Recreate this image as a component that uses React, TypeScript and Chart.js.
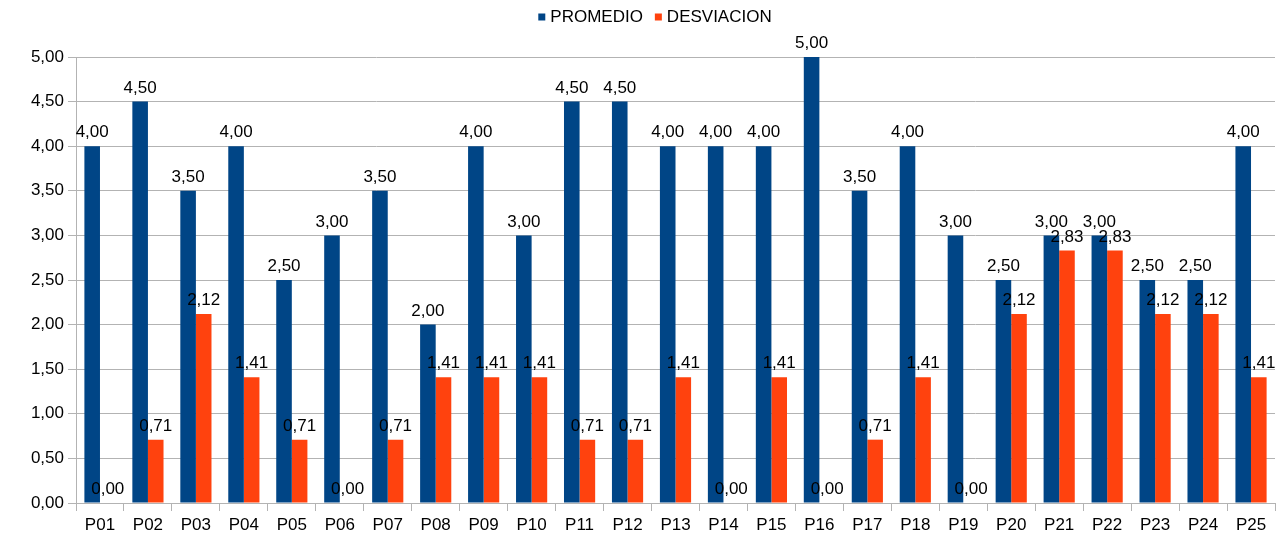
import React, { useEffect, useRef } from "react";
import { Chart, registerables } from "chart.js";

Chart.register(...registerables);

const categories = ["P01","P02","P03","P04","P05","P06","P07","P08","P09","P10","P11","P12","P13","P14","P15","P16","P17","P18","P19","P20","P21","P22","P23","P24","P25"];
const promedio = [4,4.5,3.5,4,2.5,3,3.5,2,4,3,4.5,4.5,4,4,4,5,3.5,4,3,2.5,3,3,2.5,2.5,4];
const desviacion = [0,0.71,2.12,1.41,0.71,0,0.71,1.41,1.41,1.41,0.71,0.71,1.41,0,1.41,0,0.71,1.41,0,2.12,2.83,2.83,2.12,2.12,1.41];
const seriesNames = ["PROMEDIO", "DESVIACION"];
const seriesColors = ["#004586", "#ff420e"];

const FONT = "Liberation Sans, Arial, sans-serif";
const GRID = "#b3b3b3";
const fmt = (v: number) => v.toFixed(2).replace(".", ",");

const labelPlugin = {
  id: "valueLabels",
  afterDatasetsDraw(chart: any) {
    const ctx = chart.ctx;
    ctx.save();
    ctx.font = `17px ${FONT}`;
    ctx.fillStyle = "#000";
    ctx.textAlign = "center";
    ctx.textBaseline = "bottom";
    chart.data.datasets.forEach((ds: any, di: number) => {
      const meta = chart.getDatasetMeta(di);
      meta.data.forEach((el: any, i: number) => {
        ctx.fillText(fmt(ds.data[i]), el.x, el.y - 5);
      });
    });
    ctx.restore();
  },
};

const legendPlugin = {
  id: "customLegend",
  afterDraw(chart: any) {
    const ctx = chart.ctx;
    ctx.save();
    ctx.font = `17px ${FONT}`;
    ctx.textBaseline = "middle";
    const box = 7, gap = 5, itemGap = 12;
    const widths = seriesNames.map((n) => box + gap + ctx.measureText(n).width);
    const total = widths.reduce((a, b) => a + b, 0) + itemGap * (widths.length - 1);
    let x = 655 - total / 2;
    const y = 17;
    seriesNames.forEach((n, i) => {
      ctx.fillStyle = seriesColors[i];
      ctx.fillRect(x, y - box / 2, box, box);
      ctx.fillStyle = "#000";
      ctx.textAlign = "left";
      ctx.fillText(n, x + box + gap, y);
      x += widths[i] + itemGap;
    });
    ctx.restore();
  },
};

export default function App() {
  const ref = useRef<HTMLCanvasElement>(null);
  useEffect(() => {
    const chart = new Chart(ref.current!, {
      type: "bar",
      data: {
        labels: categories,
        datasets: [
          { label: seriesNames[0], data: promedio, backgroundColor: seriesColors[0], borderWidth: 0 },
          { label: seriesNames[1], data: desviacion, backgroundColor: seriesColors[1], borderWidth: 0 },
        ],
      },
      options: {
        responsive: false,
        animation: false,
        devicePixelRatio: 1,
        layout: { padding: { top: 57, right: 12, left: 0, bottom: 0 } },
        datasets: { bar: { barPercentage: 1, categoryPercentage: 0.65 } },
        plugins: { legend: { display: false }, tooltip: { enabled: false } },
        scales: {
          x: {
            afterFit: (s: any) => { s.height = 50; },
            grid: {
              offset: true,
              color: (c: any) => (c.index === categories.length ? GRID : "rgba(0,0,0,0)"),
              tickColor: GRID,
              tickLength: 8,
            },
            border: { color: GRID },
            ticks: { color: "#000", font: { size: 17, family: FONT }, padding: 4, maxRotation: 0, autoSkip: false },
          },
          y: {
            min: 0,
            max: 5,
            afterFit: (s: any) => { s.width = 76; },
            grid: { color: GRID, tickColor: GRID, tickLength: 8 },
            border: { color: GRID },
            ticks: {
              stepSize: 0.5,
              color: "#000",
              padding: 4,
              font: { size: 17, family: FONT },
              callback: (v: any) => fmt(Number(v)),
            },
          },
        },
      },
      plugins: [labelPlugin, legendPlugin],
    });
    return () => chart.destroy();
  }, []);
  return (
    <div style={{ position: "fixed", left: 0, top: 0, width: 1287, height: 553, background: "#fff" }}>
      <canvas ref={ref} width={1287} height={553} />
    </div>
  );
}
